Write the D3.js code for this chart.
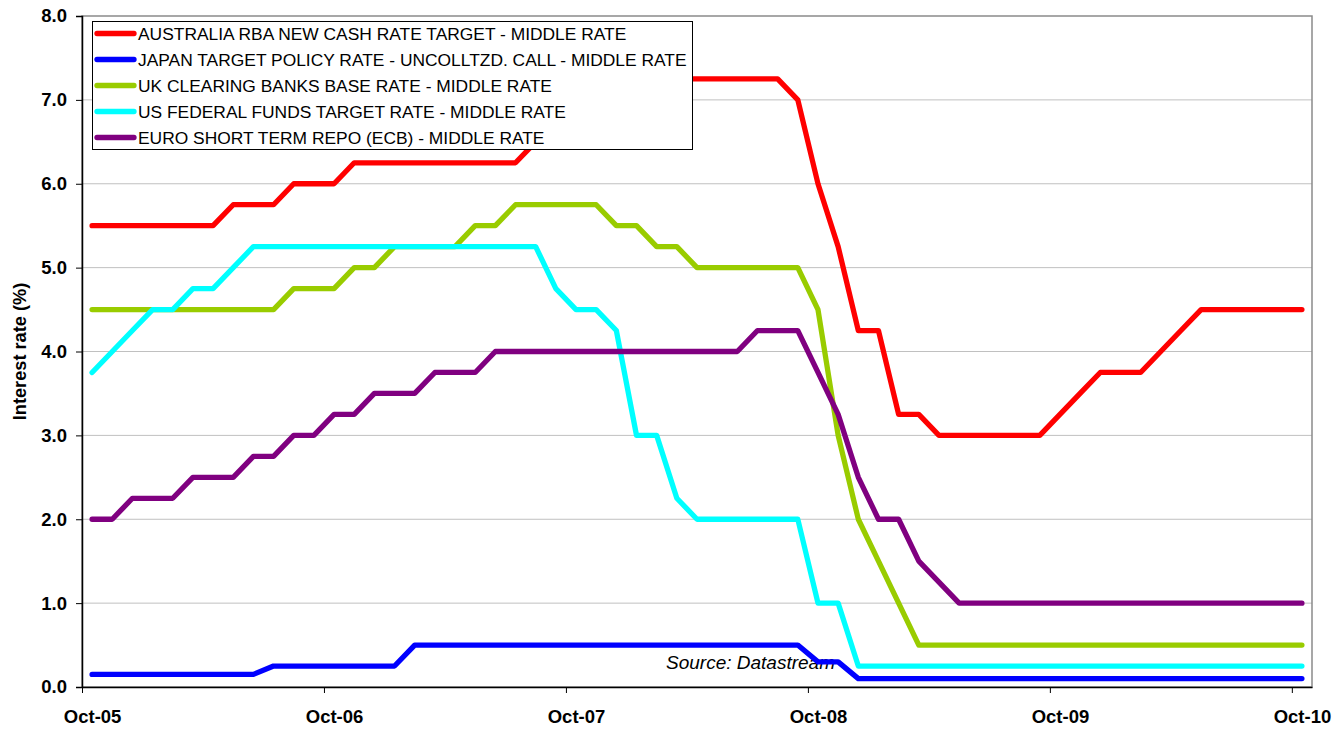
<!DOCTYPE html>
<html>
<head>
<meta charset="utf-8">
<script src="https://cdn.jsdelivr.net/npm/d3@7"></script>
<style>
  html, body { margin: 0; padding: 0; background: #fff; }
  svg { display: block; font-family: "Liberation Sans", Arial, sans-serif; }
</style>
</head>
<body>
<svg id="chart" width="1335" height="729"></svg>
<script>
// Monthly categories (month-end observations), Oct-05 .. Oct-10
const months = d3.timeMonth.range(new Date(2005, 9, 1), new Date(2010, 10, 1));
const monthLabels = months.map(d3.timeFormat("%b-%y"));
const xTickLabels = ["Oct-05", "Oct-06", "Oct-07", "Oct-08", "Oct-09", "Oct-10"];
const yTicks = [0, 1, 2, 3, 4, 5, 6, 7, 8];

const seriesNames = [
  "AUSTRALIA RBA NEW CASH RATE TARGET - MIDDLE RATE",
  "JAPAN TARGET POLICY RATE - UNCOLLTZD. CALL - MIDDLE RATE",
  "UK CLEARING BANKS BASE RATE - MIDDLE RATE",
  "US FEDERAL FUNDS TARGET RATE - MIDDLE RATE",
  "EURO SHORT TERM REPO (ECB) - MIDDLE RATE"
];
const seriesColors = ["#ff0000", "#0000ff", "#99cc00", "#00ffff", "#800080"];

const australia = [
  5.5, 5.5, 5.5, 5.5, 5.5, 5.5, 5.5, 5.75, 5.75, 5.75, 6, 6,
  6, 6.25, 6.25, 6.25, 6.25, 6.25, 6.25, 6.25, 6.25, 6.25, 6.5, 6.5,
  6.5, 6.75, 6.75, 6.75, 7, 7.25, 7.25, 7.25, 7.25, 7.25, 7.25, 7,
  6, 5.25, 4.25, 4.25, 3.25, 3.25, 3, 3, 3, 3, 3, 3,
  3.25, 3.5, 3.75, 3.75, 3.75, 4, 4.25, 4.5, 4.5, 4.5, 4.5, 4.5,
  4.5
];
const japan = [
  0.15, 0.15, 0.15, 0.15, 0.15, 0.15, 0.15, 0.15, 0.15, 0.25, 0.25, 0.25,
  0.25, 0.25, 0.25, 0.25, 0.5, 0.5, 0.5, 0.5, 0.5, 0.5, 0.5, 0.5,
  0.5, 0.5, 0.5, 0.5, 0.5, 0.5, 0.5, 0.5, 0.5, 0.5, 0.5, 0.5,
  0.3, 0.3, 0.1, 0.1, 0.1, 0.1, 0.1, 0.1, 0.1, 0.1, 0.1, 0.1,
  0.1, 0.1, 0.1, 0.1, 0.1, 0.1, 0.1, 0.1, 0.1, 0.1, 0.1, 0.1,
  0.1
];
const uk = [
  4.5, 4.5, 4.5, 4.5, 4.5, 4.5, 4.5, 4.5, 4.5, 4.5, 4.75, 4.75,
  4.75, 5, 5, 5.25, 5.25, 5.25, 5.25, 5.5, 5.5, 5.75, 5.75, 5.75,
  5.75, 5.75, 5.5, 5.5, 5.25, 5.25, 5, 5, 5, 5, 5, 5,
  4.5, 3, 2, 1.5, 1, 0.5, 0.5, 0.5, 0.5, 0.5, 0.5, 0.5,
  0.5, 0.5, 0.5, 0.5, 0.5, 0.5, 0.5, 0.5, 0.5, 0.5, 0.5, 0.5,
  0.5
];
const us = [
  3.75, 4, 4.25, 4.5, 4.5, 4.75, 4.75, 5, 5.25, 5.25, 5.25, 5.25,
  5.25, 5.25, 5.25, 5.25, 5.25, 5.25, 5.25, 5.25, 5.25, 5.25, 5.25, 4.75,
  4.5, 4.5, 4.25, 3, 3, 2.25, 2, 2, 2, 2, 2, 2,
  1, 1, 0.25, 0.25, 0.25, 0.25, 0.25, 0.25, 0.25, 0.25, 0.25, 0.25,
  0.25, 0.25, 0.25, 0.25, 0.25, 0.25, 0.25, 0.25, 0.25, 0.25, 0.25, 0.25,
  0.25
];
const euro = [
  2, 2, 2.25, 2.25, 2.25, 2.5, 2.5, 2.5, 2.75, 2.75, 3, 3,
  3.25, 3.25, 3.5, 3.5, 3.5, 3.75, 3.75, 3.75, 4, 4, 4, 4,
  4, 4, 4, 4, 4, 4, 4, 4, 4, 4.25, 4.25, 4.25,
  3.75, 3.25, 2.5, 2, 2, 1.5, 1.25, 1, 1, 1, 1, 1,
  1, 1, 1, 1, 1, 1, 1, 1, 1, 1, 1, 1,
  1
];
const seriesValues = [australia, japan, uk, us, euro];

// ---------- layout ----------
const svg = d3.select("#chart");
const plotLeft = 82, plotRight = 1312, plotTop = 16, plotBottom = 687;

const x = d3.scaleLinear().domain([0, monthLabels.length]).range([plotLeft, plotRight]);
const y = d3.scaleLinear().domain([0, 8]).range([plotBottom, plotTop]);
const half = (x(1) - x(0)) / 2;

// gridlines
svg.append("g")
  .selectAll("line")
  .data(yTicks.filter(t => t > 0 && t < 8))
  .join("line")
  .attr("x1", plotLeft).attr("x2", plotRight)
  .attr("y1", d => y(d)).attr("y2", d => y(d))
  .attr("stroke", "#c0c0c0").attr("stroke-width", 1);

// plot frame (top/right gray)
svg.append("rect")
  .attr("x", plotLeft).attr("y", plotTop)
  .attr("width", plotRight - plotLeft).attr("height", plotBottom - plotTop)
  .attr("fill", "none").attr("stroke", "#8a8a8a").attr("stroke-width", 1.5);

// source note (behind lines)
svg.append("text")
  .attr("x", 666).attr("y", 669)
  .attr("font-size", 19).attr("font-style", "italic")
  .attr("fill", "#000")
  .text("Source: Datastream");

// series lines
const line = d3.line()
  .x((d, i) => x(i + 0.5))
  .y(d => y(d));

svg.append("g")
  .selectAll("path")
  .data(seriesValues)
  .join("path")
  .attr("d", d => line(d))
  .attr("fill", "none")
  .attr("stroke", (d, i) => seriesColors[i])
  .attr("stroke-width", 5.3)
  .attr("stroke-linejoin", "round")
  .attr("stroke-linecap", "round");

// y axis
const yAxis = svg.append("g")
  .attr("transform", `translate(${plotLeft},0)`)
  .call(d3.axisLeft(y).tickValues(yTicks).tickFormat(d3.format(".1f")).tickSize(6).tickPadding(9));
yAxis.select(".domain").attr("stroke", "#000").attr("stroke-width", 1.5);
yAxis.selectAll(".tick line").attr("stroke", "#000");
yAxis.selectAll("text")
  .attr("font-family", "Liberation Sans, Arial, sans-serif")
  .attr("font-size", 18.5).attr("font-weight", "bold").attr("fill", "#000");

// x axis: ticks at category boundaries, labels at category centres
const tickIdx = xTickLabels.map(l => monthLabels.indexOf(l));
const xAxis = svg.append("g")
  .attr("transform", `translate(0,${plotBottom})`)
  .call(d3.axisBottom(x).tickValues(tickIdx).tickFormat(i => monthLabels[i]).tickSize(6).tickPadding(17).tickSizeOuter(0));
xAxis.select(".domain").attr("stroke", "#000").attr("stroke-width", 1.5);
xAxis.selectAll(".tick line").attr("stroke", "#000");
xAxis.selectAll("text")
  .attr("x", half)
  .attr("font-family", "Liberation Sans, Arial, sans-serif")
  .attr("font-size", 18.5).attr("font-weight", "bold").attr("fill", "#000");

// y axis title
svg.append("text")
  .attr("transform", `translate(26,${(plotTop + plotBottom) / 2}) rotate(-90)`)
  .attr("text-anchor", "middle")
  .attr("font-size", 18.2).attr("font-weight", "bold")
  .text("Interest rate (%)");

// legend
const lg = svg.append("g");
lg.append("rect")
  .attr("x", 92.5).attr("y", 21.5).attr("width", 600).attr("height", 128)
  .attr("fill", "#fff").attr("stroke", "#000").attr("stroke-width", 1);
const rows = lg.selectAll("g.row")
  .data(seriesNames)
  .join("g")
  .attr("class", "row")
  .attr("transform", (d, i) => `translate(0,${33.5 + i * 26})`);
rows.append("line")
  .attr("x1", 97).attr("x2", 134).attr("y1", 0).attr("y2", 0)
  .attr("stroke", (d, i) => seriesColors[i])
  .attr("stroke-width", 5.3).attr("stroke-linecap", "round");
rows.append("text")
  .attr("x", 138).attr("y", 0).attr("dy", "0.36em")
  .attr("font-size", 17.4)
  .attr("fill", "#000")
  .text(d => d);
</script>
</body>
</html>
